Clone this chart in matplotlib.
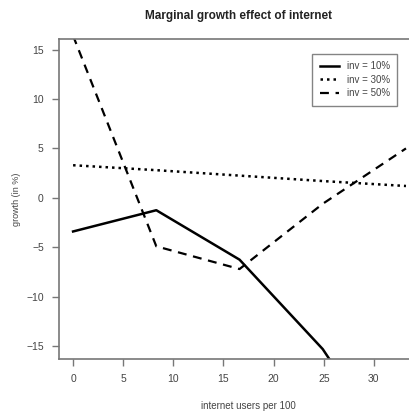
import matplotlib.pyplot as plt

# Dane
users = [0, 8.3, 16.6, 24.9, 33.2]
inv10 = [-3.4, -1.25, -6.25, -15.3, -28.0]
inv30 = [3.3, 2.8, 2.25, 1.7, 1.2]
inv50 = [16.4, -4.9, -7.2, -0.6, 5.0]
labels = ["inv = 10%", "inv = 30%", "inv = 50%"]

txt = "#444444"
plt.rcParams['font.family'] = ['Liberation Sans', 'DejaVu Sans']

fig = plt.figure(figsize=(4.1, 4.16), dpi=100)
ax = fig.add_axes([0.144, 0.137, 0.922, 0.77])

ax.plot(users, inv10, color="black", lw=1.8, label=labels[0])
ax.plot(users, inv30, color="black", lw=1.8, linestyle=(0, (1.0, 1.6)), label=labels[1])
ax.plot(users, inv50, color="black", lw=1.6, linestyle=(0, (4.0, 3.0)), label=labels[2])

ax.set_xlim(-1.4, 36.3)
ax.set_ylim(-16.3, 16.1)
ax.set_xticks([0, 5, 10, 15, 20, 25, 30])
ax.set_yticks([-15, -10, -5, 0, 5, 10, 15])
ax.tick_params(direction="out", length=5, width=1, colors="#777777",
               labelcolor=txt, labelsize=7.5, pad=6)
for s in ax.spines.values():
    s.set_color("#777777")
    s.set_linewidth(1.2)

ax.set_xlabel("internet users per 100", fontsize=7, color=txt, labelpad=12)
ax.set_ylabel("growth (in %)", fontsize=6.5, color=txt, labelpad=4)
fig.text(0.582, 0.962, "Marginal growth effect of internet", ha="center", va="center",
         fontsize=8.5, fontweight="bold", color="#222222")

leg = ax.legend(loc="upper left", bbox_to_anchor=(0.657, 0.967), fontsize=7,
                frameon=True, fancybox=False, handlelength=2.0, handletextpad=0.8,
                labelspacing=0.35, borderpad=0.75, labelcolor=txt)
leg.get_frame().set_edgecolor("#666666")
leg.get_frame().set_linewidth(1.0)

plt.savefig("out.png", dpi=100)
